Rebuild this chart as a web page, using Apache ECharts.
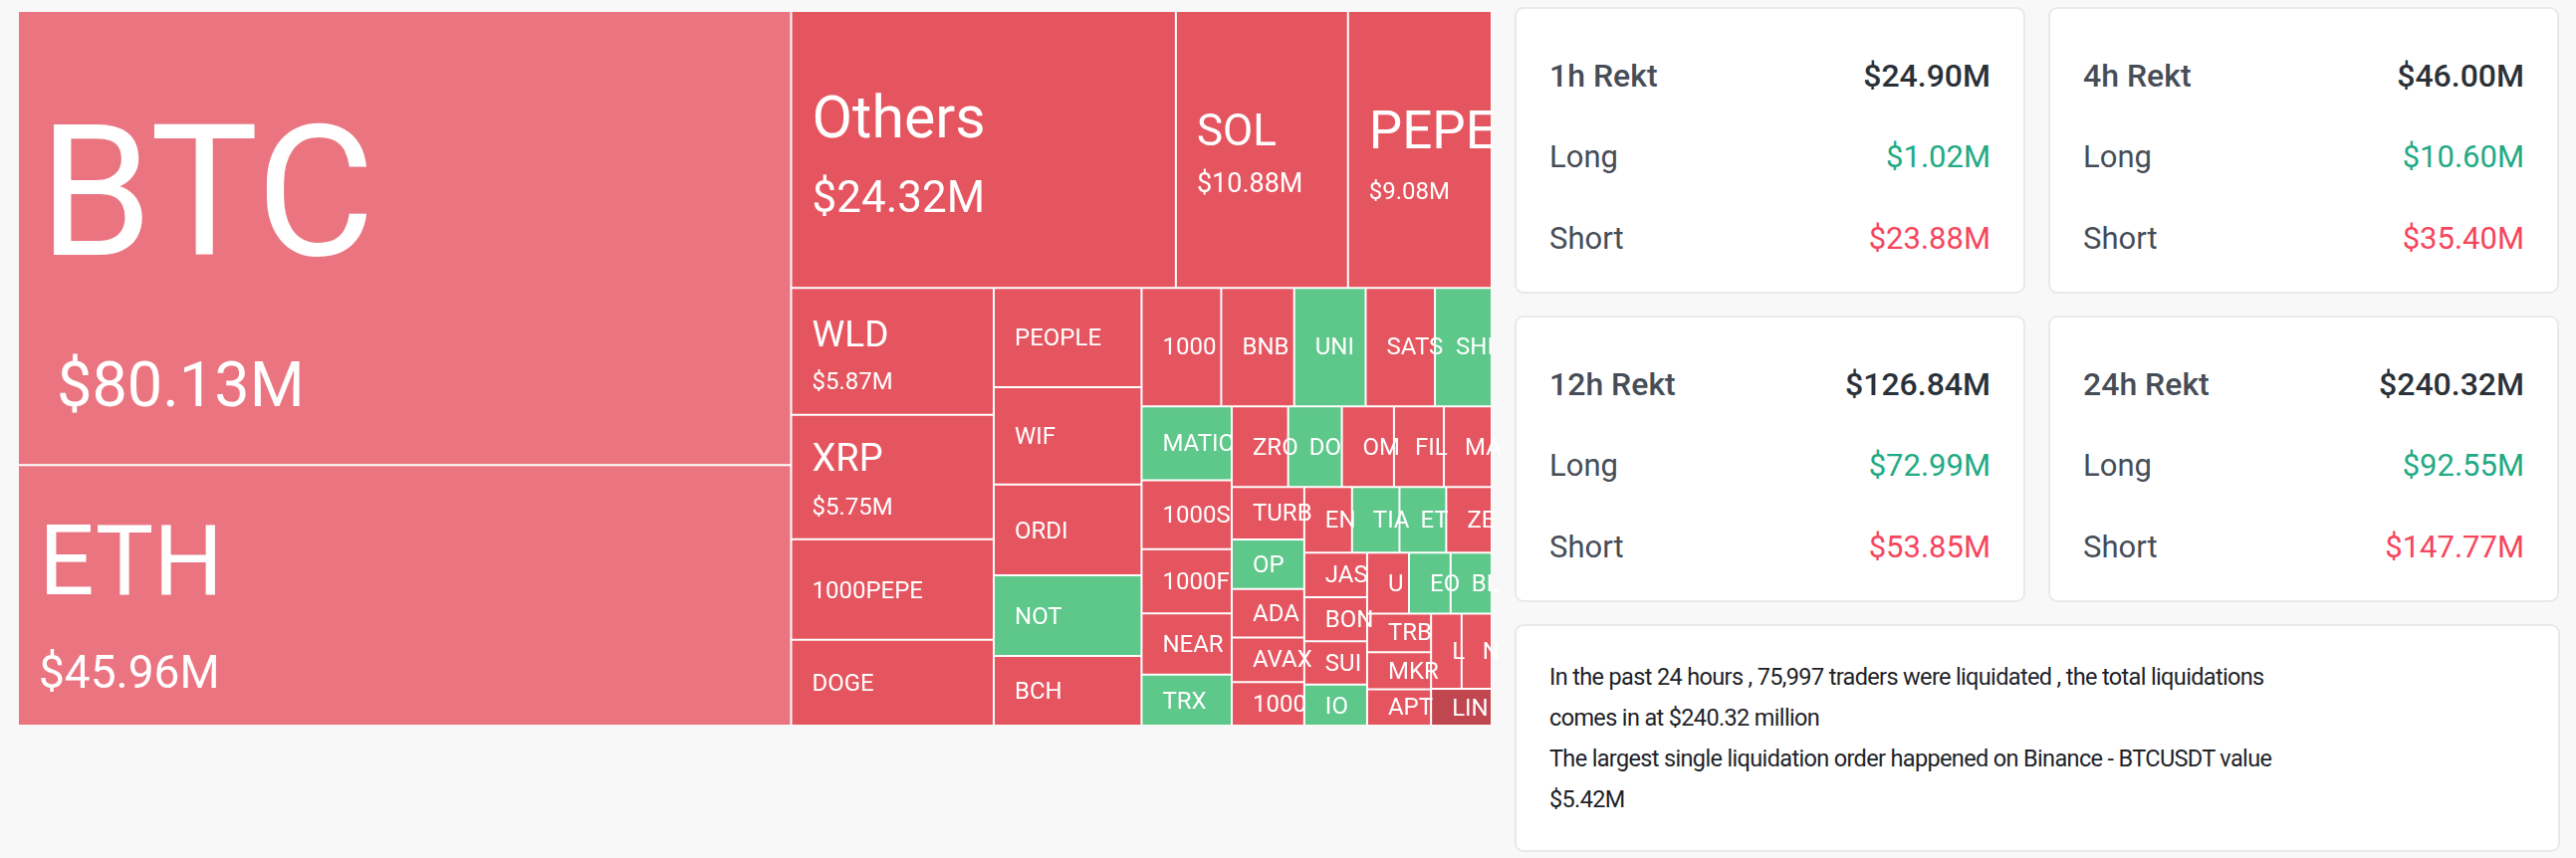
<!DOCTYPE html>
<html><head><meta charset="utf-8">
<script src="https://cdn.jsdelivr.net/npm/echarts@6.0.0/dist/echarts.min.js"></script>
<style>
html,body{margin:0;padding:0;width:2587px;height:862px;background:#f8f8f8;overflow:hidden;font-family:Roboto,"Noto Sans",sans-serif;}
#chart{position:absolute;left:0;top:0;width:1510px;height:862px;}
.card{position:absolute;background:#fff;border:2px solid #e9e9e9;border-radius:9px;box-sizing:border-box;padding:26px 33px 0 33px;}
.row{display:flex;justify-content:space-between;height:82px;line-height:82px;font-size:31px;color:#474d57;white-space:nowrap;}
.row.head{font-weight:500;font-size:32px;}
.row.head .v{color:#2b3139;}
.g{color:#22aa85;}
.r{color:#f6465d;}
.note{position:absolute;left:1521px;top:627px;width:1050px;height:229px;background:#fff;border:2px solid #e9e9e9;border-radius:9px;box-sizing:border-box;padding:0 33px;display:flex;flex-direction:column;justify-content:center;font-size:23.5px;line-height:41px;letter-spacing:-0.65px;color:#1e2329;white-space:nowrap;}
</style>
</head><body>
<div id="chart"></div>
<div id="cards"></div>
<script>
// ---- treemap data ----
const names = ['BTC','ETH','Others','SOL','PEPE','WLD','XRP','1000PEPE','DOGE',
  'PEOPLE','WIF','ORDI','NOT','BCH',
  '1000SATS','BNB','UNI','SATS','SHIB',
  'MATIC','1000SHIB','1000FLOKI','NEAR','TRX',
  'ZRO','DOT','OM','FIL','MANTA',
  'TURBO','OP','ADA','AVAX','1000BONK',
  'ENA','TIA','ETHFI','ZETA',
  'JASMY','BONK','SUI','IO',
  'UMA','EOS','BLUR',
  'TRB','MKR','APT',
  'LTC','NEO','LINK'];
const values = [80.13,45.96,24.32,10.88,9.08,5.87,5.75,4.65,3.97,
  3.35,3.28,3.06,2.72,2.35,
  2.15,1.97,1.93,1.87,1.53,
  1.52,1.42,1.32,1.26,1.05,
  1.04,0.99,0.96,0.92,0.88,
  0.87,0.82,0.80,0.74,0.72,
  0.715,0.71,0.70,0.68,
  0.64,0.63,0.62,0.59,
  0.582,0.578,0.57,
  0.565,0.54,0.53,
  0.525,0.515,0.51];
const kinds = ['major','major','short','short','short','short','short','short','short',
  'short','short','short','long','short',
  'short','short','long','short','long',
  'long','short','short','short','long',
  'short','long','short','short','short',
  'short','long','short','short','short',
  'short','long','long','short',
  'short','short','short','long',
  'short','long','long',
  'short','short','short',
  'short','short','dark'];

// ---- right panel data ----
const periods = ['1h Rekt','4h Rekt','12h Rekt','24h Rekt'];
const totals = ['$24.90M','$46.00M','$126.84M','$240.32M'];
const longs = ['$1.02M','$10.60M','$72.99M','$92.55M'];
const shorts = ['$23.88M','$35.40M','$53.85M','$147.77M'];
const noteLines = ['In the past 24 hours , 75,997 traders were liquidated , the total liquidations',
  'comes in at $240.32 million',
  'The largest single liquidation order happened on Binance - BTCUSDT value',
  '$5.42M'];

// ---- styles ----
const kindColor = {major:'#ea7580', short:'#e5555f', long:'#5ec78a', dark:'#c0464f'};
const labelSizes = { // name font, name line height, value font, value line height, value indent
  BTC:[183,306,63,58,18], ETH:[98,163,46,50,0], Others:[59,103,44,53,0],
  SOL:[44,72,27,31,0], PEPE:[53,87,24,29,0], WLD:[37,63,24,29,0], XRP:[38,63,24,32,0]
};
const SMALL = [24,26,24,26,0];
const LEFT_PAD = 20, RIGHT_PAD = -12, SMALL_SHIFT = 2;
const showValue = v => v >= 5;

function buildData(padTops){
  return names.map((n,i)=>{
    const s = labelSizes[n] || SMALL;
    return {
      name:n, value:values[i],
      itemStyle:{color:kindColor[kinds[i]]},
      label:{
        padding:[padTops ? padTops[n] : 0, RIGHT_PAD, 0, LEFT_PAD],
        rich:{
          n:{fontSize:s[0], lineHeight:s[1], color:'#fff', fontFamily:'Roboto'},
          v:{fontSize:s[2], lineHeight:s[3], color:'#fff', fontFamily:'Roboto', padding:[0,0,0,s[4]]}
        }
      }
    };
  });
}

function option(data){
  return {
    animation:false,
    series:[{
      type:'treemap',
      left:19, top:12, width:1478, height:716,
      roam:false, nodeClick:false,
      breadcrumb:{show:false},
      sort:'desc',
      data:data,
      levels:[
        {itemStyle:{borderWidth:0, gapWidth:2, borderColor:'#fff'}},
        {itemStyle:{borderWidth:0, gapWidth:0}}
      ],
      label:{
        show:true, position:'insideTopLeft', color:'#fff',
        fontFamily:'Roboto', overflow:'truncate', ellipsis:'',
        formatter:function(p){
          if (showValue(p.value)) return '{n|'+p.name+'}\n{v|$'+p.value.toFixed(2)+'M}';
          return '{n|'+p.name+'}';
        }
      },
      emphasis:{disabled:true}
    }]
  };
}

const chart = echarts.init(document.getElementById('chart'), null, {renderer:'canvas'});
chart.setOption(option(buildData(null)));

// second pass: centre each label vertically using the layout the library computed
const padTops = {};
try {
  const tree = chart.getModel().getSeriesByIndex(0).getData().tree;
  tree.root.children.forEach(node=>{
    const lay = node.getLayout();
    const n = node.name;
    const s = labelSizes[n] || SMALL;
    const v = node.getValue();
    const twoLines = showValue(v);
    const blockH = twoLines ? s[1] + s[3] : s[1];
    padTops[n] = Math.max(0, Math.round((lay.height - blockH) / 2 + (twoLines ? 0 : SMALL_SHIFT)));
  });
  chart.setOption(option(buildData(padTops)), {replaceMerge:['series']});
} catch(e) { console.log(e); }

// ---- cards ----
const pos = [[1521,7],[2057,7],[1521,317],[2057,317]];
const cards = document.getElementById('cards');
periods.forEach((p,i)=>{
  const c = document.createElement('div');
  c.className='card';
  c.style.left=pos[i][0]+'px'; c.style.top=pos[i][1]+'px';
  c.style.width='513px'; c.style.height='288px';
  c.innerHTML = '<div class="row head"><span>'+p+'</span><span class="v">'+totals[i]+'</span></div>'+
    '<div class="row"><span>Long</span><span class="g">'+longs[i]+'</span></div>'+
    '<div class="row"><span>Short</span><span class="r">'+shorts[i]+'</span></div>';
  cards.appendChild(c);
});
const note = document.createElement('div');
note.className='note';
note.innerHTML = noteLines.map(l=>'<div>'+l+'</div>').join('');
cards.appendChild(note);
</script>
</body></html>
